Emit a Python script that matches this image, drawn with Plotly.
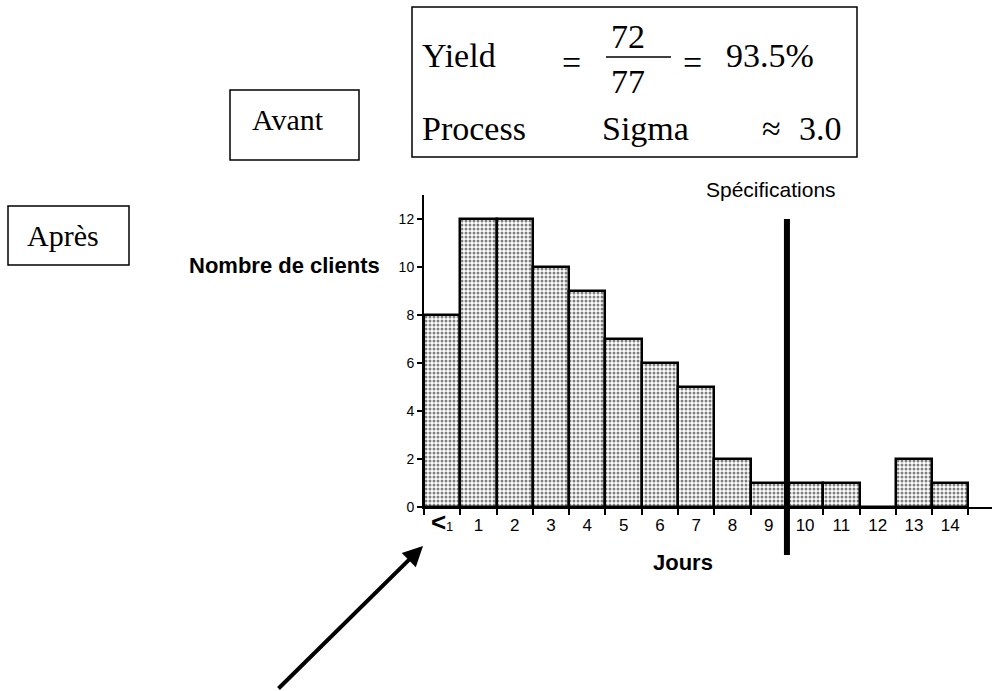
import plotly.graph_objects as go

# ---- data ----
categories = ["<1", "1", "2", "3", "4", "5", "6", "7", "8", "9", "10", "11", "12", "13", "14"]
clients = [8, 12, 12, 10, 9, 7, 6, 5, 2, 1, 1, 1, 0, 2, 1]
tick_labels = ["<span style='font-size:26px'><b>&lt;</b></span><span style='font-size:13px'>1</span>",
               "1", "2", "3", "4", "5", "6", "7", "8", "9", "10", "11", "12", "13", "14"]
spec_limit = 9.5
y_ticks = [0, 2, 4, 6, 8, 10, 12]

W, H = 997, 691
L, R, T, B = 424, 992, 195, 507  # plot area in pixels


def px(x):
    return (x - L) / (R - L)


def py(y):
    return (B - y) / (B - T)


xpos = list(range(len(categories)))

fig = go.Figure()
fig.add_trace(go.Bar(
    x=xpos, y=clients, width=1,
    marker=dict(color="white",
                line=dict(color="black", width=2.5),
                pattern=dict(shape=".", fgcolor="black", bgcolor="white", size=4, solidity=0.45)),
    hoverinfo="skip",
))

fig.update_layout(
    width=W, height=H, autosize=False,
    margin=dict(l=L, r=W - R, t=T, b=H - B),
    plot_bgcolor="white", paper_bgcolor="white",
    showlegend=False, bargap=0,
    font=dict(family="Liberation Sans, Arial", color="black"),
)
fig.update_xaxes(
    range=[-0.5, 15.15], tickvals=xpos, ticktext=tick_labels, ticks="",
    tickfont=dict(size=17), showline=True, linecolor="black", linewidth=2,
    showgrid=False, zeroline=False, ticklabelstandoff=2,
    minor=dict(ticks="outside", tick0=-0.5, dtick=1, ticklen=6, tickwidth=2, tickcolor="black", showgrid=False),
)
fig.update_yaxes(
    range=[0, 13], tickvals=y_ticks, ticks="outside", ticklen=5, tickwidth=2, tickcolor="black",
    tickfont=dict(size=14), showline=True, linecolor="black", linewidth=2,
    showgrid=False, zeroline=False,
)

shapes = []
# specification line
shapes.append(dict(type="line", xref="x", yref="paper", x0=spec_limit, x1=spec_limit,
                   y0=py(219), y1=py(555), line=dict(color="black", width=6)))


def box(x0, y0, x1, y1):
    shapes.append(dict(type="rect", xref="paper", yref="paper", x0=px(x0), x1=px(x1),
                       y0=py(y1), y1=py(y0), line=dict(color="black", width=1.5), fillcolor="rgba(0,0,0,0)"))


box(412, 7, 857, 157)
box(230, 90, 359, 160)
box(8, 206, 129, 265)
# fraction bar
shapes.append(dict(type="line", xref="paper", yref="paper", x0=px(606), x1=px(671),
                   y0=py(57), y1=py(57), line=dict(color="black", width=1.5)))
fig.update_layout(shapes=shapes)

serif = "Liberation Serif, Times New Roman"
ann = []


def text(x, y, s, size, xanchor="left", family=serif, bold=False):
    if bold:
        s = "<b>" + s + "</b>"
    ann.append(dict(xref="paper", yref="paper", x=px(x), y=py(y), text=s, showarrow=False,
                    xanchor=xanchor, yanchor="middle", font=dict(family=family, size=size, color="black")))


text(420, 55, "Yield", 34)
text(560, 62, "=", 34)
text(628, 36, "72", 34, "center")
text(628, 82, "77", 34, "center")
text(681, 62, "=", 34)
text(724, 55, "93.5%", 34)
text(420, 128, "Process", 34)
text(600, 128, "Sigma", 34)
text(760, 128, "≈", 34)
text(797, 128, "3.0", 34)
text(288, 120, "Avant", 30, "center")
text(63, 235, "Après", 30, "center")
sans = "Liberation Sans, Arial"
text(382, 265, "Nombre de clients", 22, "right", sans, True)
text(683, 562, "Jours", 22, "center", sans, True)
text(771, 189, "Spécifications", 21, "center", sans)

# arrow
ann.append(dict(xref="paper", yref="paper", x=px(423), y=py(546), text="", showarrow=True,
                ax=277 - 423, ay=690 - 546, arrowhead=2, arrowsize=1, arrowwidth=4, arrowcolor="black",
                axref="pixel", ayref="pixel"))
fig.update_layout(annotations=ann)

fig.write_html("out.html", config={"displayModeBar": False},
               post_script="document.body.style.margin='0px';document.body.style.overflow='hidden';")
